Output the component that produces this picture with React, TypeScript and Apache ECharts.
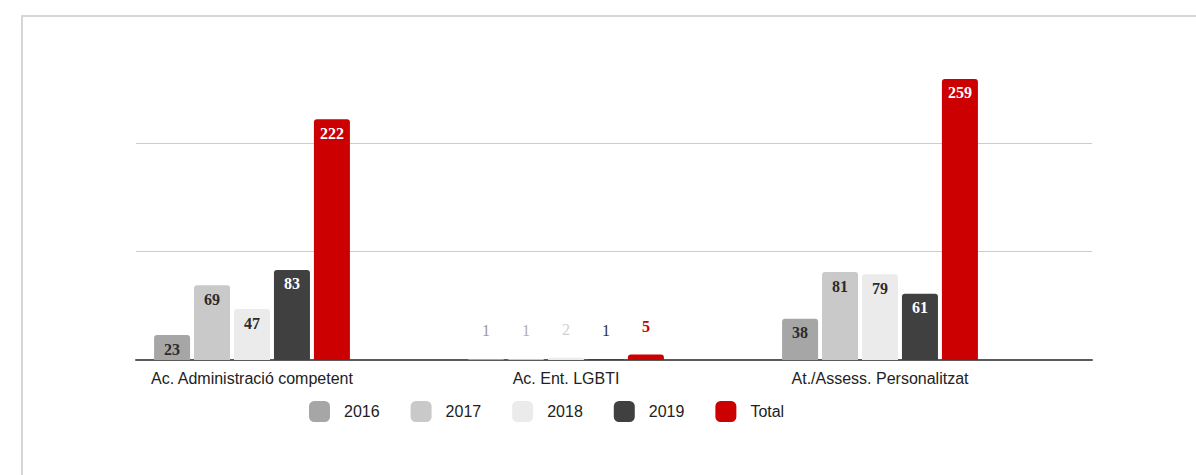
import React, { useEffect, useRef } from "react";
import * as echarts from "echarts";

const categories = ["Ac. Administració competent", "Ac. Ent. LGBTI", "At./Assess. Personalitzat"];
const seriesNames = ["2016", "2017", "2018", "2019", "Total"];
const values2016 = [23, 1, 38];
const values2017 = [69, 1, 81];
const values2018 = [47, 2, 79];
const values2019 = [83, 1, 61];
const valuesTotal = [222, 5, 259];
const yTicks = [0, 100, 200, 300];

const allValues = [values2016, values2017, values2018, values2019, valuesTotal];
const barColors = ["#a6a6a6", "#c9c9c9", "#ebebeb", "#404040", "#cc0000"];
const insideLabelColors = ["#2b2b2b", "#2b2b2b", "#2b2b2b", "#ffffff", "#ffffff"];
const outsideLabelColors = ["#9a9a9a", "#b0b0b0", "#cfcfcf", "#333333", "#cc0000"];

export default function App() {
  const ref = useRef<HTMLDivElement>(null);
  useEffect(() => {
    if (!ref.current) return;
    const chart = echarts.init(ref.current, null, { renderer: "svg" });
    const series: any[] = seriesNames.map((name, si) => ({
      name,
      type: "bar",
      xAxisIndex: 0,
      yAxisIndex: 0,
      barWidth: 36,
      barGap: "11%",
      itemStyle: { color: barColors[si], borderRadius: [3, 3, 0, 0] },
      label: {
        show: true,
        position: "insideTop",
        distance: 6,
        fontFamily: "Liberation Serif",
        fontSize: 16,
        fontWeight: "bold",
        color: insideLabelColors[si],
      },
      data: allValues[si].map((v) =>
        v < 10
          ? {
              value: v,
              label: {
                position: "top",
                distance: 20,
                fontWeight: si === 4 ? "bold" : "normal",
                color: outsideLabelColors[si],
              },
            }
          : v
      ),
    }));
    chart.setOption({
      animation: false,
      backgroundColor: "#ffffff",
      graphic: [
        {
          type: "rect",
          shape: { x: 22, y: 16, width: 1400, height: 700 },
          style: { fill: "none", stroke: "#d6d6d6", lineWidth: 2 },
          silent: true,
        },
      ],
      legend: {
        data: seriesNames,
        left: 309,
        top: 401,
        padding: 0,
        itemWidth: 21,
        itemHeight: 21,
        itemGap: 31,
        icon: "roundRect",
        textStyle: {
          fontFamily: "Liberation Sans",
          fontSize: 16,
          color: "#222",
          padding: [0, 0, 0, 9],
        },
      },
      grid: [
        { left: 95, right: 159, top: 34.5, bottom: 115 },
        { left: 136, right: 104, top: 34.5, bottom: 115 },
      ],
      xAxis: [
        {
          type: "category",
          gridIndex: 0,
          data: categories,
          axisLine: { show: false },
          axisTick: { show: false },
          axisLabel: {
            fontFamily: "Liberation Sans",
            fontSize: 16,
            color: "#222",
            margin: 10,
          },
        },
        {
          type: "category",
          gridIndex: 1,
          data: [""],
          axisLine: { show: true, lineStyle: { color: "#5a5a5a", width: 2 } },
          axisTick: { show: false },
          axisLabel: { show: false },
        },
      ],
      yAxis: [
        {
          type: "value",
          gridIndex: 0,
          min: yTicks[0],
          max: yTicks[yTicks.length - 1],
          interval: 100,
          show: false,
          splitLine: { show: false },
        },
        {
          type: "value",
          gridIndex: 1,
          min: yTicks[0],
          max: yTicks[yTicks.length - 1],
          interval: 100,
          axisLine: { show: false },
          axisTick: { show: false },
          axisLabel: { show: false },
          splitLine: {
            show: true,
            lineStyle: { color: ["rgba(0,0,0,0)", "#cccccc", "#cccccc", "rgba(0,0,0,0)"], width: 1 },
          },
        },
      ],
      series,
    });
    return () => chart.dispose();
  }, []);
  return (
    <div
      ref={ref}
      style={{ position: "absolute", left: 0, top: 0, width: 1196, height: 475 }}
    />
  );
}
